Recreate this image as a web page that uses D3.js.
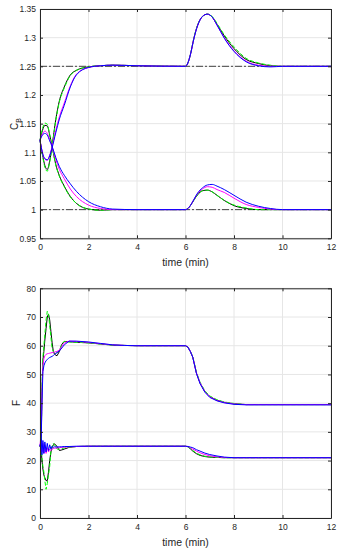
<!DOCTYPE html>
<html>
<head>
<meta charset="utf-8">
<script src="https://cdn.jsdelivr.net/npm/d3@7"></script>
<style>
  body { margin: 0; background: #fff; }
  svg text { font-family: "Liberation Sans", Arial, sans-serif; }
</style>
</head>
<body>
<svg id="chart" width="343" height="550"></svg>
<script>
// ---- data: concentration C_B ----
var CB_TIME = [0, 0.1, 0.2, 0.3, 0.4, 0.5, 0.65, 0.8, 1.0, 1.25, 1.5, 2.0, 2.5, 3.0, 4.0,
  6.0, 6.1, 6.2, 6.35, 6.5, 6.7, 6.9, 7.1, 7.3, 7.6, 8.0, 8.5, 9.0, 9.5, 10, 12];

var CB_HIGH_BLACK = [1.121, 1.097, 1.077, 1.070, 1.085, 1.112, 1.157, 1.190, 1.214, 1.235, 1.243, 1.249, 1.251, 1.252, 1.251,
  1.250, 1.256, 1.270, 1.300, 1.322, 1.337, 1.341, 1.336, 1.323, 1.303, 1.281, 1.262, 1.255, 1.251, 1.250, 1.250];
var CB_HIGH_GREEN = [1.121, 1.095, 1.074, 1.067, 1.083, 1.110, 1.155, 1.188, 1.212, 1.234, 1.243, 1.249, 1.251, 1.252, 1.251,
  1.250, 1.256, 1.270, 1.300, 1.322, 1.337, 1.341, 1.337, 1.325, 1.305, 1.284, 1.264, 1.256, 1.252, 1.250, 1.250];
var CB_HIGH_MAGENTA = [1.121, 1.100, 1.088, 1.086, 1.095, 1.110, 1.138, 1.162, 1.186, 1.216, 1.236, 1.248, 1.251, 1.252, 1.251,
  1.250, 1.256, 1.270, 1.299, 1.321, 1.337, 1.341, 1.336, 1.322, 1.300, 1.277, 1.259, 1.252, 1.250, 1.250, 1.250];
var CB_HIGH_BLUE = [1.121, 1.099, 1.089, 1.087, 1.094, 1.108, 1.134, 1.158, 1.182, 1.214, 1.235, 1.248, 1.251, 1.252, 1.251,
  1.250, 1.256, 1.270, 1.299, 1.321, 1.337, 1.341, 1.336, 1.322, 1.299, 1.276, 1.258, 1.251, 1.249, 1.250, 1.250];

var CB_LOW_BLACK = [1.121, 1.138, 1.147, 1.146, 1.130, 1.110, 1.079, 1.059, 1.041, 1.023, 1.011, 1.001, 0.999, 1.000, 1.000,
  1.000, 1.002, 1.007, 1.017, 1.026, 1.033, 1.034, 1.031, 1.025, 1.016, 1.007, 1.002, 1.000, 1.000, 1.000, 1.000];
var CB_LOW_GREEN = [1.121, 1.141, 1.151, 1.149, 1.131, 1.110, 1.078, 1.058, 1.040, 1.022, 1.011, 1.001, 0.999, 1.000, 1.000,
  1.000, 1.002, 1.007, 1.017, 1.026, 1.033, 1.034, 1.031, 1.025, 1.016, 1.008, 1.003, 1.000, 1.000, 1.000, 1.000];
var CB_LOW_MAGENTA = [1.121, 1.132, 1.137, 1.133, 1.122, 1.110, 1.088, 1.070, 1.054, 1.036, 1.023, 1.008, 1.002, 1.000, 1.000,
  1.000, 1.002, 1.007, 1.018, 1.028, 1.036, 1.040, 1.039, 1.035, 1.030, 1.020, 1.009, 1.004, 1.001, 1.000, 1.000];
var CB_LOW_BLUE = [1.121, 1.130, 1.133, 1.130, 1.120, 1.110, 1.091, 1.075, 1.060, 1.045, 1.032, 1.014, 1.005, 1.001, 1.000,
  1.000, 1.002, 1.007, 1.018, 1.029, 1.038, 1.043, 1.044, 1.041, 1.035, 1.025, 1.013, 1.006, 1.002, 1.000, 1.000];

var CB_SETPOINTS = [1.25, 1.0];

// ---- data: flow F ----
var F_TIME = [0, 0.05, 0.08, 0.12, 0.16, 0.2, 0.25, 0.3, 0.35, 0.4, 0.45, 0.5, 0.55, 0.6, 0.7, 0.8, 0.9, 1.0, 1.2, 1.5,
  2.0, 2.5, 3.0, 3.5, 4.0, 6.0, 6.1, 6.2, 6.3, 6.45, 6.6, 6.8, 7.0, 7.3, 7.6, 8.0, 8.5, 9.0, 12];

var F_HIGH_BLACK = [25, 26, 44, 55, 58, 62, 66, 70, 71, 69, 65, 61, 58, 57, 56.5, 58, 60.5, 61.5, 61.4, 61.2,
  61, 60.6, 60.2, 60.1, 60, 60, 59.5, 58, 56, 50.5, 47, 44, 42.3, 41, 40.3, 39.8, 39.5, 39.5, 39.5];
var F_HIGH_GREEN = [25, 26, 45, 56, 60, 64, 69, 72, 71, 67, 63, 59, 58, 57.5, 57.5, 58.5, 60.5, 61.5, 61.3, 61.2,
  61, 60.6, 60.2, 60.1, 60, 60, 59.5, 58, 56.2, 50.8, 47.3, 44.3, 42.5, 41.2, 40.4, 39.9, 39.5, 39.5, 39.5];
var F_HIGH_MAGENTA = [25, 30, 43, 53, 55.5, 56.5, 57, 57.2, 57.3, 57.4, 57.5, 57.6, 57.7, 57.8, 58, 58.5, 59.8, 61, 61.6, 61.5,
  61.2, 60.7, 60.3, 60.1, 60, 60, 59.5, 58, 56, 50.5, 47, 44, 42.2, 40.9, 40.2, 39.7, 39.5, 39.5, 39.5];
var F_HIGH_BLUE = [25, 27, 40, 51, 53, 54, 54.8, 55.2, 55.6, 55.9, 56.1, 56.3, 56.6, 57, 57.6, 58.2, 59.2, 60.3, 61.6, 61.6,
  61.3, 60.8, 60.3, 60.1, 60, 60, 59.5, 58, 56, 50.4, 46.8, 43.8, 42, 40.8, 40.1, 39.6, 39.4, 39.4, 39.4];

var F_LOW_BLACK = [25, 24, 20, 17, 15, 14, 13, 13, 16, 20, 23, 24.5, 25.5, 25.8, 25, 23.5, 23.7, 24, 24.6, 24.9,
  25, 25, 25, 25, 25, 25, 24.8, 24.1, 23.3, 22.4, 21.8, 21.4, 21.2, 21.1, 21, 21, 21, 21, 21];
var F_LOW_GREEN = [25, 24, 21, 18, 16, 13, 10, 12, 15, 18, 23, 25, 26, 25.5, 24, 24, 24.2, 24.4, 24.7, 24.9,
  25, 25, 25, 25, 25, 25, 24.8, 24.2, 23.5, 22.6, 22, 21.5, 21.3, 21.1, 21, 21, 21, 21, 21];
var F_LOW_MAGENTA = [25, 27, 23, 26, 22.5, 25.5, 22.5, 24.5, 23, 24, 23.5, 24, 24.2, 24.3, 24.4, 24.5, 24.6, 24.7, 24.8, 24.9,
  25, 25, 25, 25, 25, 25, 24.9, 24.5, 24, 23.3, 22.7, 22.1, 21.7, 21.3, 21.1, 21, 21, 21, 21];
var F_LOW_BLUE = [25, 27.5, 22, 27, 22.5, 26.5, 23, 26, 23.5, 25.5, 24, 25, 24.6, 24.8, 24.7, 24.8, 24.8, 24.9, 24.9, 25,
  25, 25, 25, 25, 25, 25, 24.9, 24.7, 24.5, 23.8, 23.3, 22.6, 22.1, 21.6, 21.2, 21, 21, 21, 21];

var X_TICKS = [0, 2, 4, 6, 8, 10, 12];
var CB_TICKS = [0.95, 1, 1.05, 1.1, 1.15, 1.2, 1.25, 1.3, 1.35];
var F_TICKS = [0, 10, 20, 30, 40, 50, 60, 70, 80];

var STYLE = {
    black: { color: "#000000", dash: null },
    green: { color: "#00ff00", dash: "4,2" },
    magenta: { color: "#ff00ff", dash: null },
    blue: { color: "#0000ff", dash: null }
};

var AXIS_COLOR = "#262626";
var svg = d3.select("#chart");

function drawPanel(opts) {
    var x = d3.scaleLinear().domain([0, 12]).range([opts.left, opts.right]);
    var y = d3.scaleLinear().domain(opts.yDomain).range([opts.bottom, opts.top]);
    var g = svg.append("g");

    // grid
    g.selectAll(".gx").data(X_TICKS).enter().append("line")
        .attr("x1", d => x(d)).attr("x2", d => x(d))
        .attr("y1", opts.top).attr("y2", opts.bottom)
        .attr("stroke", "#e6e6e6").attr("stroke-width", 1);
    g.selectAll(".gy").data(opts.yTicks).enter().append("line")
        .attr("x1", opts.left).attr("x2", opts.right)
        .attr("y1", d => y(d)).attr("y2", d => y(d))
        .attr("stroke", "#e6e6e6").attr("stroke-width", 1);

    // setpoint lines
    if (opts.setpoints) {
        g.selectAll(".sp").data(opts.setpoints).enter().append("line")
            .attr("x1", x(0)).attr("x2", x(12))
            .attr("y1", d => y(d)).attr("y2", d => y(d))
            .attr("stroke", "#444").attr("stroke-width", 1)
            .attr("stroke-dasharray", "7,2,2,2");
    }

    var line = d3.line()
        .x((d, i) => x(opts.time[i]))
        .y(d => y(d))
        .curve(opts.curve);

    opts.series.forEach(function (s) {
        g.append("path")
            .attr("d", line(s.values))
            .attr("fill", "none")
            .attr("stroke", STYLE[s.style].color)
            .attr("stroke-width", 1)
            .attr("stroke-dasharray", STYLE[s.style].dash);
    });

    // axes (matlab-ish: inward ticks, box)
    var xAxis = d3.axisBottom(x).tickValues(X_TICKS).tickSizeInner(-3).tickSizeOuter(0).tickPadding(6);
    var yAxis = d3.axisLeft(y).tickValues(opts.yTicks).tickSizeInner(-3).tickSizeOuter(0).tickPadding(4)
        .tickFormat(d3.format(opts.fmt));
    var xa = g.append("g").attr("transform", "translate(0," + opts.bottom + ")").call(xAxis);
    var ya = g.append("g").attr("transform", "translate(" + opts.left + ",0)").call(yAxis);
    var xt = g.append("g").attr("transform", "translate(0," + opts.top + ")")
        .call(d3.axisTop(x).tickValues(X_TICKS).tickSizeInner(-3).tickSizeOuter(0).tickFormat(""));
    var yr = g.append("g").attr("transform", "translate(" + opts.right + ",0)")
        .call(d3.axisRight(y).tickValues(opts.yTicks).tickSizeInner(-3).tickSizeOuter(0).tickFormat(""));
    [xa, ya, xt, yr].forEach(function (a) {
        a.select(".domain").attr("stroke", AXIS_COLOR);
        a.selectAll(".tick line").attr("stroke", AXIS_COLOR);
        a.selectAll("text").attr("fill", AXIS_COLOR).style("font-size", "8.5px");
    });

    g.append("text")
        .attr("x", (opts.left + opts.right) / 2).attr("y", opts.bottom + 28)
        .attr("text-anchor", "middle").attr("fill", AXIS_COLOR).style("font-size", "10.5px")
        .text("time (min)");

    return g;
}

var cbPanel = drawPanel({
    left: 40, right: 331, top: 9, bottom: 238.3,
    yDomain: [0.95, 1.35], yTicks: CB_TICKS, fmt: "",
    time: CB_TIME, curve: d3.curveMonotoneX,
    setpoints: CB_SETPOINTS,
    series: [
        { style: "black", values: CB_HIGH_BLACK },
        { style: "black", values: CB_LOW_BLACK },
        { style: "green", values: CB_HIGH_GREEN },
        { style: "green", values: CB_LOW_GREEN },
        { style: "magenta", values: CB_HIGH_MAGENTA },
        { style: "magenta", values: CB_LOW_MAGENTA },
        { style: "blue", values: CB_HIGH_BLUE },
        { style: "blue", values: CB_LOW_BLUE }
    ]
});

var cbLabel = cbPanel.append("text")
    .attr("transform", "translate(18,124) rotate(-90)")
    .attr("text-anchor", "middle").attr("fill", AXIS_COLOR).style("font-size", "10px");
cbLabel.append("tspan").text("C");
cbLabel.append("tspan").attr("dy", 2.5).style("font-size", "7px").text("B");

var fPanel = drawPanel({
    left: 40, right: 331, top: 288.3, bottom: 518,
    yDomain: [0, 80], yTicks: F_TICKS, fmt: "",
    time: F_TIME, curve: d3.curveLinear,
    setpoints: null,
    series: [
        { style: "black", values: F_HIGH_BLACK },
        { style: "black", values: F_LOW_BLACK },
        { style: "green", values: F_HIGH_GREEN },
        { style: "green", values: F_LOW_GREEN },
        { style: "magenta", values: F_HIGH_MAGENTA },
        { style: "magenta", values: F_LOW_MAGENTA },
        { style: "blue", values: F_HIGH_BLUE },
        { style: "blue", values: F_LOW_BLUE }
    ]
});

fPanel.append("text")
    .attr("transform", "translate(20,403) rotate(-90)")
    .attr("text-anchor", "middle").attr("fill", AXIS_COLOR).style("font-size", "10px")
    .text("F");
</script>
</body>
</html>
